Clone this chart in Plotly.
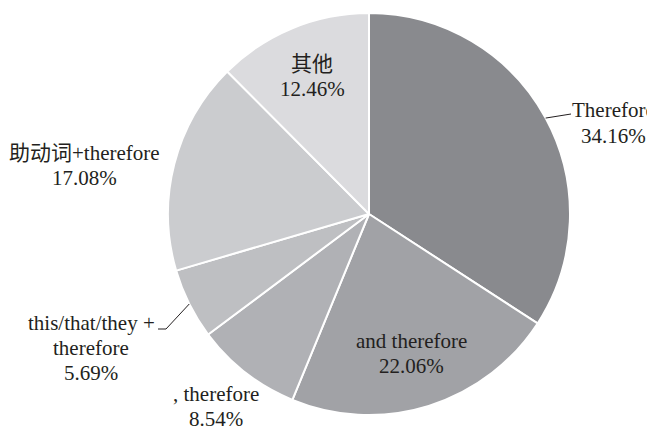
import math
import plotly.graph_objects as go

categories = ["Therefore", "and therefore", ", therefore", "this/that/they +<br>therefore", "助动词+therefore", "其他"]
values = [34.16, 22.06, 8.54, 5.69, 17.08, 12.46]
colors = ["#898a8e", "#a1a2a6", "#b0b1b5", "#bebfc2", "#cbcccf", "#dbdbde"]

OFF = 8  # page body margin
W, H = 655 - OFF, 430 - OFF
CX, CY, R = 369 - OFF, 214 - OFF, 201
LINE = 25  # px between text lines

# label block centres (reference pixels) and leader lines
label_pos = [(613, 123), (411, 353), (216, 406), (91, 348), (84, 165), (312, 77)]
leader_end = [(571, 114), None, None, (166, 329), None, None]
leader_tail = [None, None, None, (158, 329), None, None]

fig = go.Figure(go.Pie(
    labels=categories, values=values, sort=False, direction="clockwise", rotation=0,
    marker=dict(colors=colors, line=dict(color="white", width=2)),
    textinfo="none", hoverinfo="label+percent", showlegend=False,
    domain=dict(x=[(CX - R) / W, (CX + R) / W], y=[(H - CY - R) / H, (H - CY + R) / H]),
))

def px(x, y):
    return x / W, 1 - y / H

FONT = "Liberation Serif, Times New Roman, Noto Sans CJK SC, serif"
total = sum(values)
cum = 0.0
annotations, shapes = [], []
for i, (cat, v) in enumerate(zip(categories, values)):
    mid = (cum + v / 2) / total
    cum += v
    th = 2 * math.pi * mid
    lx, ly = label_pos[i]
    lines = cat.split("<br>") + [f"{v:.2f}%"]
    n = len(lines)
    for k, t in enumerate(lines):
        yy = ly + (k - (n - 1) / 2) * LINE
        ax, ay = px(lx - OFF, yy - OFF)
        annotations.append(dict(
            x=ax, y=ay, xref="paper", yref="paper", showarrow=False,
            text=t, align="center", xanchor="center", yanchor="middle",
            font=dict(family=FONT, size=21, color="#231f20"),
        ))
    if leader_end[i] is not None:
        ex, ey = CX + R * math.sin(th), CY - R * math.cos(th)
        pts = [(ex, ey), (leader_end[i][0] - OFF, leader_end[i][1] - OFF)]
        if leader_tail[i] is not None:
            pts.append((leader_tail[i][0] - OFF, leader_tail[i][1] - OFF))
        for (x0, y0), (x1, y1) in zip(pts[:-1], pts[1:]):
            a0, b0 = px(x0, y0)
            a1, b1 = px(x1, y1)
            shapes.append(dict(type="line", xref="paper", yref="paper", x0=a0, y0=b0, x1=a1, y1=b1,
                               line=dict(color="#231f20", width=1)))

fig.update_layout(
    width=W, height=H, margin=dict(l=0, r=0, t=0, b=0),
    paper_bgcolor="white", plot_bgcolor="white",
    annotations=annotations, shapes=shapes,
)
fig.write_html("out.html")
